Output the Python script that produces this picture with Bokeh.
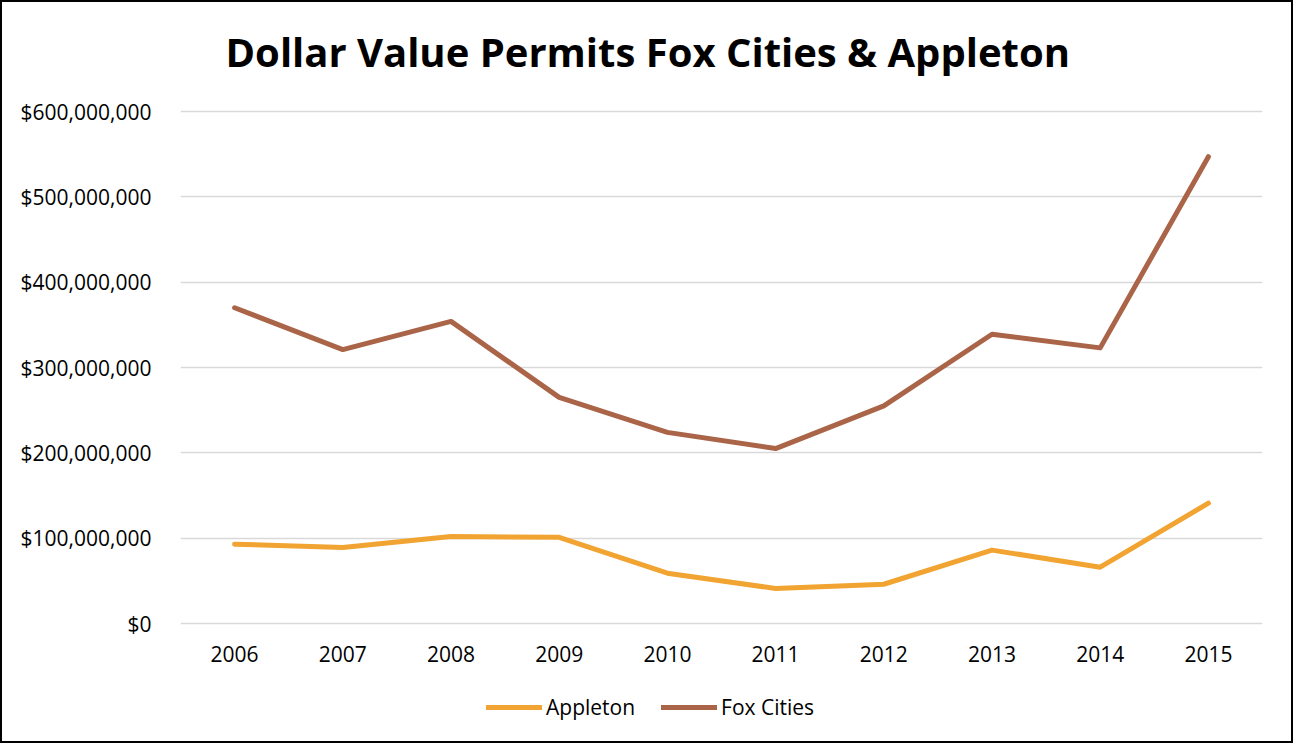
from bokeh.plotting import figure
from bokeh.models import Range1d, NumeralTickFormatter, Legend, LegendItem, Label
from bokeh.embed import file_html
from bokeh.resources import INLINE

years = ["2006", "2007", "2008", "2009", "2010", "2011", "2012", "2013", "2014", "2015"]
appleton = [93e6, 89e6, 102e6, 101e6, 59e6, 41e6, 46e6, 86e6, 66e6, 141e6]
fox_cities = [370e6, 321e6, 354e6, 265e6, 224e6, 205e6, 255e6, 339e6, 323e6, 547e6]
y_ticks = [0, 100e6, 200e6, 300e6, 400e6, 500e6, 600e6]
title_text = "Dollar Value Permits Fox Cities & Appleton"

FONT = "Open Sans"

# plot area: 512 px for 0..600M; frame extended above (title) and below (legend)
PLOT_H = 512
EXTRA_TOP = 99
EXTRA_BOTTOM = 108
FRAME_H = PLOT_H + EXTRA_TOP + EXTRA_BOTTOM
Y_TOP = 600e6
Y_MAX = Y_TOP + EXTRA_TOP / PLOT_H * Y_TOP
Y_MIN = -EXTRA_BOTTOM / PLOT_H * Y_TOP

p = figure(x_range=years, y_range=Range1d(Y_MIN, Y_MAX),
           frame_width=1082, frame_height=FRAME_H,
           output_backend="svg", toolbar_location=None,
           min_border_left=178, min_border_right=29, min_border_top=10, min_border_bottom=10)
p.title = None
p.styles = {"border": "2px solid black", "box-sizing": "border-box"}

p.outline_line_color = None
p.background_fill_color = "white"
p.border_fill_color = "white"

p.xgrid.grid_line_color = None
p.ygrid.grid_line_color = "#D9D9D9"
p.ygrid.grid_line_width = 1.5

p.yaxis.ticker = y_ticks
p.yaxis.formatter = NumeralTickFormatter(format="$0,0")
p.xaxis.fixed_location = 0
for ax in (p.xaxis, p.yaxis):
    ax.axis_line_color = None
    ax.major_tick_line_color = None
    ax.minor_tick_line_color = None
    ax.major_tick_out = 0
    ax.major_tick_in = 0
    ax.major_label_text_font = FONT
    ax.major_label_text_font_size = "21px"
    ax.major_label_text_color = "black"
p.yaxis.major_label_standoff = 29
p.xaxis.major_label_standoff = 22

title = Label(text=title_text, x=45, y=FRAME_H - 39, x_units="screen", y_units="screen",
              text_font=FONT, text_font_size="40px", text_font_style="bold",
              text_color="black", text_align="left", text_baseline="alphabetic")
p.add_layout(title)

r1 = p.line(years, appleton, line_color="#F1A432", line_width=5, line_cap="round", line_join="round")
r2 = p.line(years, fox_cities, line_color="#AA6448", line_width=5, line_cap="round", line_join="round")

legend = Legend(items=[LegendItem(label="Appleton", renderers=[r1]),
                       LegendItem(label="Fox Cities", renderers=[r2])],
                orientation="horizontal", location=(306, 10),
                label_text_font=FONT, label_text_font_size="21px", label_text_color="black",
                glyph_width=56, glyph_height=20, label_standoff=4, spacing=26,
                border_line_color=None, background_fill_alpha=0, margin=0, padding=4)
p.add_layout(legend, "center")

open("out.html", "w").write(file_html(p, INLINE))
